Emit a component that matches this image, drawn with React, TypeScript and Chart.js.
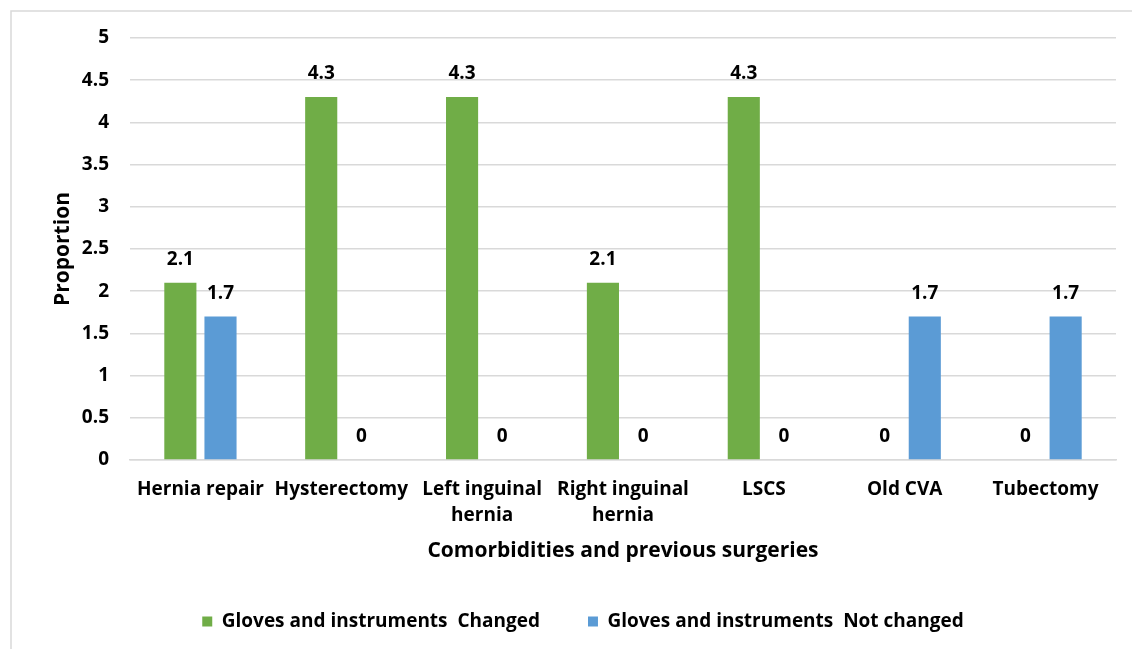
import React, { useEffect, useRef } from "react";
import { Chart, registerables } from "chart.js";

Chart.register(...registerables);

const categories: (string | string[])[] = [
  "Hernia repair",
  "Hysterectomy",
  ["Left inguinal", "hernia"],
  ["Right inguinal", "hernia"],
  "LSCS",
  "Old CVA",
  "Tubectomy",
];
const changedValues = [2.1, 4.3, 4.3, 2.1, 4.3, 0, 0];
const notChangedValues = [1.7, 0, 0, 0, 0, 1.7, 1.7];
const seriesNames = ["Gloves and instruments  Changed", "Gloves and instruments  Not changed"];
const yTicks = [0, 0.5, 1, 1.5, 2, 2.5, 3, 3.5, 4, 4.5, 5];

const FONT = "'Open Sans', Lato, sans-serif";
const TEXT = "#000000";
const GRID = "#d9d9d9";

// Frame line along the top and left edges of the chart card
const framePlugin = {
  id: "frame",
  beforeDraw(chart: Chart) {
    const { ctx, width, height } = chart;
    ctx.save();
    ctx.fillStyle = "#ffffff";
    ctx.fillRect(0, 0, width, height);
    ctx.strokeStyle = GRID;
    ctx.lineWidth = 1.5;
    ctx.beginPath();
    ctx.moveTo(11, height);
    ctx.lineTo(11, 11);
    ctx.lineTo(width, 11);
    ctx.stroke();
    ctx.restore();
  },
};

// Value labels above each bar (zeros sit just above the baseline)
const valueLabelPlugin = {
  id: "valueLabels",
  afterDatasetsDraw(chart: Chart) {
    const { ctx } = chart;
    ctx.save();
    ctx.font = `bold 19px ${FONT}`;
    ctx.fillStyle = TEXT;
    ctx.textAlign = "center";
    ctx.textBaseline = "middle";
    chart.data.datasets.forEach((ds, di) => {
      const meta = chart.getDatasetMeta(di);
      meta.data.forEach((el: any, i: number) => {
        const v = ds.data[i] as number;
        ctx.fillText(String(v), el.x, el.y - 23);
      });
    });
    ctx.restore();
  },
};

export default function App() {
  const canvasRef = useRef<HTMLCanvasElement | null>(null);

  useEffect(() => {
    document.body.style.margin = "0";
    const canvas = canvasRef.current;
    if (!canvas) return;
    const chart = new Chart(canvas, {
      type: "bar",
      data: {
        labels: categories,
        datasets: [
          {
            label: seriesNames[0],
            data: changedValues,
            backgroundColor: "#70ad47",
            categoryPercentage: 0.57,
            barPercentage: 0.8,
          },
          {
            label: seriesNames[1],
            data: notChangedValues,
            backgroundColor: "#5b9bd5",
            categoryPercentage: 0.57,
            barPercentage: 0.8,
          },
        ],
      },
      options: {
        animation: false,
        responsive: false,
        layout: { padding: { left: 50, right: 16, top: 38, bottom: 8 } },
        plugins: {
          tooltip: { enabled: false },
          legend: {
            position: "bottom",
            labels: {
              boxWidth: 10,
              boxHeight: 10,
              padding: 48,
              color: TEXT,
              font: { family: FONT, size: 19, weight: "bold" },
            },
          },
        },
        scales: {
          x: {
            grid: { display: false, drawTicks: false },
            border: { display: true, color: GRID, width: 1.5 },
            ticks: {
              color: TEXT,
              padding: 17,
              maxRotation: 0,
              autoSkip: false,
              font: { family: FONT, size: 19, weight: "bold", lineHeight: 1.37 },
            },
            title: {
              display: true,
              text: "Comorbidities and previous surgeries",
              color: TEXT,
              padding: { top: 0, bottom: 0 },
              font: { family: FONT, size: 21, weight: "bold" },
            },
            afterFit(scale: any) {
              scale.height = 104;
            },
          },
          y: {
            min: 0,
            max: 5,
            afterBuildTicks(scale: any) {
              scale.ticks = yTicks.map((v) => ({ value: v }));
            },
            grid: { color: GRID, lineWidth: 1.5, drawTicks: false },
            border: { display: false },
            ticks: {
              color: TEXT,
              padding: 21,
              font: { family: FONT, size: 19, weight: "bold" },
              callback: (v: any) => String(v),
            },
            title: {
              display: true,
              text: "Proportion",
              color: TEXT,
              padding: { top: 0, bottom: 0 },
              font: { family: FONT, size: 21, weight: "bold" },
            },
            afterFit(scale: any) {
              scale.width = 80;
            },
          },
        },
      },
      plugins: [framePlugin, valueLabelPlugin],
    });
    return () => chart.destroy();
  }, []);

  return (
    <div style={{ width: 1132, height: 649 }}>
      <canvas ref={canvasRef} width={1132} height={649} style={{ display: "block" }} />
    </div>
  );
}
